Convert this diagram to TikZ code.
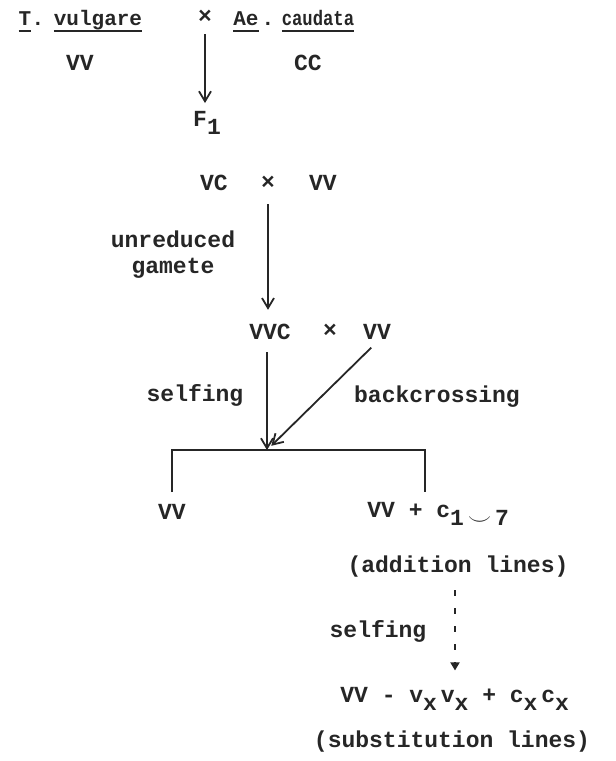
\documentclass[tikz,border=0pt]{standalone}
\usepackage{fontspec}
\setmainfont{Liberation Mono}
\usetikzlibrary{arrows.meta}
\newcommand{\lowr}[1]{\raisebox{-0.7ex}{#1}}
\newcommand{\ulx}[1]{\setbox0\hbox{#1}\rlap{\rule[-3.5pt]{\wd0}{0.9pt}}\box0}
\begin{document}
\begin{tikzpicture}[x=0.5pt,y=-0.5pt,
  lbl/.style={font=\fontsize{11.5}{13}\selectfont\bfseries, inner sep=1pt, text=black!85},
  top/.style={font=\fontsize{10.5}{12}\selectfont\bfseries, inner sep=1pt, text=black!85, anchor=base},
  arr/.style={-{Straight Barb[length=5pt,width=6pt]}, line width=0.9pt, black!85},
  plain/.style={line width=0.9pt, black!85},
  darr/.style={-{Triangle[length=4pt,width=4.5pt]}, line width=0.9pt, black!85, dash pattern=on 3pt off 6pt}]
\useasboundingbox (0,0) rectangle (616,761);
% top cross
\node[top] (t) at (25,25) {\ulx{T}};
\node[top] (dot1) at (38,25) {.};
\node[top] (vulg) at (98,25) {\ulx{vulgare}};
\node[lbl] (x1) at (205,17) {×};
\node[top] (ae) at (246,25) {\ulx{Ae}};
\node[top] (dot2) at (268,25) {.};
\node[top] (caud) at (318,25) {\ulx{\scalebox{0.82}[1]{caudata}}};
\node[lbl] (vv1) at (80,63) {VV};
\node[lbl] (cc) at (308,63) {CC};
\node[lbl] (f1) at (207,123) {F\lowr{1}};
% F1 backcross
\node[lbl] (vc) at (214,183) {VC};
\node[lbl] (x2) at (268,183) {×};
\node[lbl] (vv2) at (323,183) {VV};
\node[lbl, align=center] (ug) at (173,255) {unreduced\\gamete};
% second cross
\node[lbl] (vvc) at (270,332) {VVC};
\node[lbl] (x3) at (330,331) {×};
\node[lbl] (vv3) at (377,332) {VV};
\node[lbl] (self1) at (195,395) {selfing};
\node[lbl] (bc) at (437,397) {backcrossing};
\coordinate (j) at (267,450);
\coordinate (rd) at (425,492);
\node[lbl] (vvl) at (172,512) {VV};
\node[lbl, anchor=base west] (vvr) at (365,517) {VV + c\lowr{1\,$\smile$\,7}};
\node[lbl] (add) at (458,567) {(addition lines)};
\node[lbl] (self2) at (378,631) {selfing};
\node[lbl, anchor=base west] (sub) at (338,702) {VV - v\lowr{x}\,v\lowr{x} + c\lowr{x}\,c\lowr{x}};
\node[lbl] (subl) at (452,742) {(substitution lines)};
% connectors
\draw[arr] (x1.south) ++(0,8) -- (205,103);
\draw[arr, shorten <=6pt, shorten >=6pt] (x2.south) -- (x2.south |- vvc.north);
\draw[arr, shorten <=5pt] (vvc.south -| j) -- (j);
\draw[arr, shorten <=4pt, shorten >=3pt] (vv3.south) -- (j);
\draw[plain] ([yshift=5pt]vvl.north) |- (j) -| (rd);
\draw[darr, shorten <=5pt, shorten >=7pt] (add.south -| 455,0) -- (sub.north -| 455,0);
\end{tikzpicture}
\end{document}
